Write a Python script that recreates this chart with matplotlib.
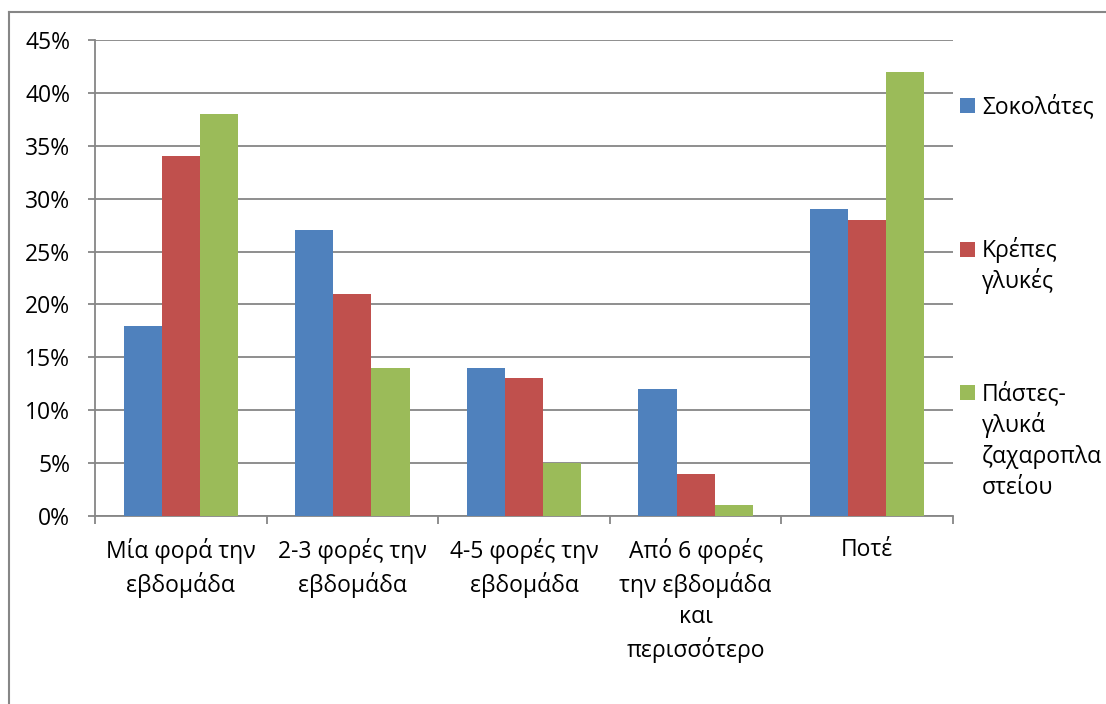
import matplotlib
matplotlib.use("Agg")
import matplotlib.pyplot as plt
import numpy as np
from matplotlib.lines import Line2D
from matplotlib.patches import Rectangle

plt.rcParams['font.family'] = ['Open Sans', 'DejaVu Sans']

categories = [
    "Μία φορά την\nεβδομάδα",
    "2-3 φορές την\nεβδομάδα",
    "4-5 φορές την\nεβδομάδα",
    "Από 6 φορές\nτην εβδομάδα\nκαι\nπερισσότερο",
    "Ποτέ",
]
series_names = ["Σοκολάτες", "Κρέπες\nγλυκές", "Πάστες-\nγλυκά\nζαχαροπλα\nστείου"]
sokolates = [18, 27, 14, 12, 29]
krepes = [34, 21, 13, 4, 28]
pastes = [38, 14, 5, 1, 42]
colors = ["#4F81BD", "#C0504D", "#9BBB59"]
yticks = [0, 5, 10, 15, 20, 25, 30, 35, 40, 45]

W, H = 1106, 704
FS = 16.5
LS = 1.4
fig = plt.figure(figsize=(W / 100, H / 100), dpi=100)
ax = fig.add_axes([95 / W, 1 - 516 / H, (953 - 95) / W, (516 - 40) / H])

grey = "#868686"
x = np.arange(len(categories))
bw = 1 / 4.5
for i, (vals, c) in enumerate(zip([sokolates, krepes, pastes], colors)):
    ax.bar(x + (i - 1) * bw, vals, width=bw, color=c, zorder=3)

ax.set_xlim(-0.5, len(categories) - 0.5)
ax.set_ylim(0, 45)
ax.set_yticks(yticks)
ax.set_yticklabels([f"{v}%" for v in yticks], fontsize=FS)
ax.yaxis.grid(True, color=grey, linewidth=1.3, zorder=0)
ax.tick_params(axis='y', direction='out', length=5, width=1.3, color=grey, pad=13)

ax.set_xticks(x)
ax.set_xticklabels(categories, fontsize=FS, linespacing=LS)
ax.tick_params(axis='x', which='major', length=0, pad=16)
ax.set_xticks(np.arange(len(categories) + 1) - 0.5, minor=True)
ax.tick_params(axis='x', which='minor', direction='out', length=6, width=1.3, color=grey)

for s in ['top', 'right']:
    ax.spines[s].set_visible(False)
for s in ['left', 'bottom']:
    ax.spines[s].set_color(grey)
    ax.spines[s].set_linewidth(1.3)

# Legend: square key aligned with the first line of each label
key_tops = [98, 242, 385]
line_step = 31.5
for name, c, top in zip(series_names, colors, key_tops):
    fig.add_artist(Rectangle((960 / W, 1 - (top + 15) / H), 15 / W, 15 / H,
                             facecolor=c, edgecolor='none', transform=fig.transFigure))
    for k, line in enumerate(name.split("\n")):
        fig.text(982 / W, 1 - (top + 15 + k * line_step) / H, line, fontsize=FS,
                 va='baseline', ha='left')

# Outer chart border
fig.add_artist(Line2D([9 / W, 9 / W], [0, 1 - 12 / H], color=grey, linewidth=1.5))
fig.add_artist(Line2D([9 / W, 1], [1 - 12 / H, 1 - 12 / H], color=grey, linewidth=1.5))

fig.savefig("out.png", dpi=100)
